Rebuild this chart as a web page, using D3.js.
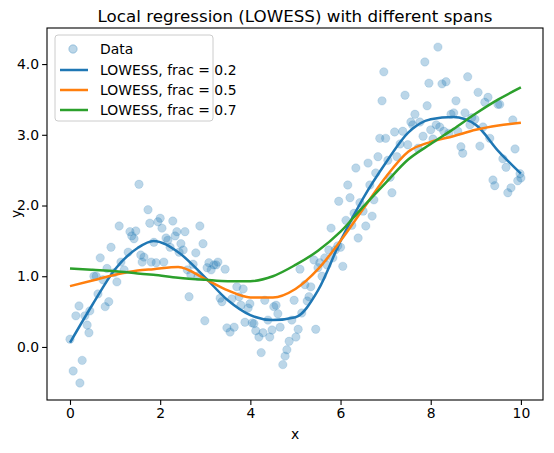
<!DOCTYPE html><html><head><meta charset="utf-8"><script src="https://d3js.org/d3.v7.min.js"></script>
<style>body{margin:0;background:#fff}text{font-family:"DejaVu Sans",sans-serif}</style></head><body><svg id="c" width="554" height="453"></svg>
<script>
const dataX=[0,0.07,0.13,0.2,0.22,0.27,0.33,0.38,0.42,0.44,0.53,0.58,0.62,0.67,0.73,0.78,0.82,0.86,0.91,0.98,
1.04,1.09,1.13,1.2,1.29,1.33,1.37,1.42,1.46,1.53,1.57,1.6,1.64,1.73,1.77,1.8,1.86,1.91,1.95,2.0,
2.04,2.08,2.13,2.17,2.22,2.28,2.33,2.37,2.42,2.46,2.51,2.55,2.6,2.64,2.68,2.73,2.79,2.84,2.88,2.95,2.99,
3.04,3.08,3.13,3.19,3.24,3.28,3.33,3.37,3.44,3.48,3.55,3.59,3.64,3.7,3.75,3.79,3.84,3.88,3.95,3.99,
4.04,4.08,4.12,4.19,4.24,4.28,4.32,4.39,4.43,4.48,4.52,4.57,4.61,4.66,4.72,4.77,4.81,4.86,4.92,4.97,
5.01,5.06,5.1,5.14,5.21,5.26,5.3,5.34,5.41,5.45,5.5,5.54,5.59,5.65,5.7,5.74,5.79,5.83,5.88,5.94,
5.96,6.0,6.05,6.12,6.16,6.21,6.25,6.3,6.34,6.39,6.43,6.5,6.56,6.61,6.65,6.7,6.74,6.78,6.83,6.87,6.92,6.96,7.0,
7.05,7.1,7.14,7.2,7.25,7.32,7.38,7.43,7.49,7.56,7.6,7.65,7.72,7.76,7.83,7.87,7.92,7.96,8.0,
8.05,8.12,8.16,8.2,8.25,8.29,8.34,8.4,8.45,8.51,8.56,8.6,8.67,8.71,8.76,8.82,8.87,8.91,8.98,9.05,
9.09,9.16,9.2,9.27,9.31,9.38,9.42,9.49,9.53,9.6,9.67,9.71,9.78,9.82,9.87,9.93,9.98,10.0];
const dataY=[0.11,-0.34,0.44,0.58,-0.51,-0.19,0.44,0.31,0.2,0.51,1.0,1.0,0.75,1.26,0.95,0.57,1.11,0.64,1.41,1.05,
0.92,1.71,1.2,1.09,1.34,1.63,1.57,1.53,1.64,2.3,1.3,1.2,1.27,1.94,1.75,1.2,1.48,1.19,1.77,1.82,
1.68,1.2,1.54,1.51,1.41,1.78,1.57,1.63,1.34,1.46,1.37,1.63,1.09,0.71,1.02,1.17,1.33,1.0,1.71,1.46,0.37,
1.12,1.19,1.09,1.16,1.16,1.2,0.69,0.64,1.1,0.27,0.21,0.68,0.28,0.85,0.71,0.59,0.82,0.35,0.55,0.61,
0.34,0.33,0.23,0.14,-0.08,0.2,0.66,0.38,0.14,0.24,0.57,0.59,0.47,0.28,-0.25,-0.13,-0.04,0.08,0.38,0.66,
0.14,0.25,1.1,0.48,0.88,0.65,0.71,0.85,1.23,0.25,1.12,1.19,1.0,1.26,1.16,1.37,1.68,1.26,1.37,1.43,
2.06,1.41,1.14,1.79,2.29,2.11,1.72,1.89,2.53,1.54,2.04,1.92,1.71,2.6,2.29,1.85,2.08,2.46,2.69,2.95,3.48,3.89,2.95,
2.64,2.4,2.18,3.04,2.69,2.87,3.05,3.56,2.86,3.18,3.14,3.29,2.81,3.18,2.98,4.03,3.41,3.73,3.07,
2.94,3.14,4.24,3.11,3.72,3.05,3.75,3.02,3.29,3.31,3.48,3.05,2.83,2.74,3.31,3.82,3.14,3.24,3.22,3.6,
2.84,3.11,3.46,3.53,2.95,2.36,2.28,3.43,3.43,2.66,2.54,2.18,2.25,3.21,2.8,2.35,2.45,2.39];
const curveX=[0,0.5,1,1.5,1.85,2.4,3,3.5,4,4.5,5,5.5,6,6.5,7,7.5,8,8.5,9,9.5,10];
const lowess02=[0.06,0.6,1.1,1.4,1.5,1.34,0.98,0.66,0.45,0.38,0.42,0.8,1.5,2.1,2.6,3.03,3.22,3.25,3.14,2.77,2.45];
const lowess05=[0.86,0.94,1.02,1.08,1.1,1.13,0.96,0.8,0.7,0.7,0.82,1.1,1.5,1.95,2.4,2.76,2.9,2.98,3.07,3.13,3.17];
const lowess07=[1.11,1.09,1.07,1.04,1.02,0.98,0.95,0.93,0.93,1.0,1.16,1.36,1.63,1.98,2.32,2.65,2.87,3.08,3.3,3.5,3.67];
const seriesNames=["LOWESS, frac = 0.2","LOWESS, frac = 0.5","LOWESS, frac = 0.7"];
const colors=["#1f77b4","#ff7f0e","#2ca02c"];
const xTicks=[0,2,4,6,8,10], yTicks=[0,1,2,3,4];

const svg=d3.select("#c");
const L=47,T=28,R=543,B=400;
const x=d3.scaleLinear().domain([-0.51,10.49]).range([L,R]);
const y=d3.scaleLinear().domain([-0.75,4.51]).range([B,T]);
const g=svg.append("g");
g.selectAll("circle").data(dataX).join("circle").attr("cx",d=>x(d)).attr("cy",(d,i)=>y(dataY[i])).attr("r",4.2)
 .attr("fill","#1f77b4").attr("fill-opacity",0.3).attr("stroke","#1f77b4").attr("stroke-opacity",0.3).attr("stroke-width",0.5);
const line=d3.line().x((d,i)=>x(curveX[i])).y(d=>y(d)).curve(d3.curveMonotoneX);
[lowess02,lowess05,lowess07].forEach((s,k)=>g.append("path").attr("d",line(s)).attr("fill","none").attr("stroke",colors[k]).attr("stroke-width",2.5));
const xa=svg.append("g").attr("transform",`translate(0,${B})`).call(d3.axisBottom(x).tickValues(xTicks).tickSize(4.9).tickPadding(3));
const ya=svg.append("g").attr("transform",`translate(${L},0)`).call(d3.axisLeft(y).tickValues(yTicks).tickSize(4.9).tickPadding(3));
[xa,ya].forEach(a=>{a.selectAll("text").attr("font-size",13.9).attr("font-family","DejaVu Sans").attr("fill","#000");a.select(".domain").remove();a.selectAll("line").attr("stroke","#000").attr("stroke-width",1.1);});
svg.append("rect").attr("x",L).attr("y",T).attr("width",R-L).attr("height",B-T).attr("fill","none").attr("stroke","#000").attr("stroke-width",1.1);
svg.append("text").attr("x",(L+R)/2).attr("y",22).attr("text-anchor","middle").attr("font-size",16.7).text("Local regression (LOWESS) with different spans");
svg.append("text").attr("x",(L+R)/2).attr("y",439).attr("text-anchor","middle").attr("font-size",13.9).text("x");
svg.append("text").attr("transform","translate(21,214) rotate(-90)").attr("text-anchor","middle").attr("font-size",13.9).text("y");
const lg=svg.append("g");
lg.append("rect").attr("x",55).attr("y",35).attr("width",158).attr("height",86).attr("rx",3).attr("fill","#fff").attr("fill-opacity",0.8).attr("stroke","#ccc");
lg.append("circle").attr("cx",73).attr("cy",49).attr("r",4.2).attr("fill","#1f77b4").attr("fill-opacity",0.3).attr("stroke","#1f77b4").attr("stroke-opacity",0.3);
lg.append("text").attr("x",100).attr("y",54).attr("font-size",13.9).text("Data");
seriesNames.forEach((n,k)=>{const yy=70+k*20;
 lg.append("line").attr("x1",60).attr("x2",88).attr("y1",yy).attr("y2",yy).attr("stroke",colors[k]).attr("stroke-width",2.5);
 lg.append("text").attr("x",100).attr("y",yy+5).attr("font-size",13.9).text(n);});
</script></body></html>
